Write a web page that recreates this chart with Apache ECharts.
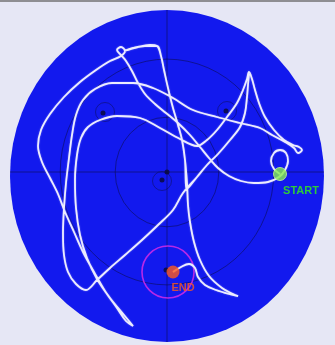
<!DOCTYPE html>
<html>
<head>
<meta charset="utf-8">
<script src="https://cdn.jsdelivr.net/npm/echarts@6/dist/echarts.min.js"></script>
<style>
  html, body { margin: 0; padding: 0; background: #e6e7f5; }
  #chart { width: 335px; height: 345px; }
</style>
</head>
<body>
<div id="chart"></div>
<script>
// Swim path in the pool, tracker units (origin = pool centre marker, y up)
const pathX = [113,107,104,107,113,119,121,118,112,
  101,87,74,62,51,42,33,23,11,-1,-12,-22,-29,-35,-41,-46,
  -50,-46,-42,-46,
  -57,-71,-87,-103,-117,-126,-129,-125,-117,-109,-102,-93,-84,-73,-62,-50,-41,-34,
  -43,-57,-70,-80,-87,-91,-92,-90,-86,-79,-67,-50,-27,-7,13,30,40,50,60,70,76,80,82,
  85,88,92,98,107,117,126,132,135,131,127,
  118,105,93,73,50,26,6,-14,-34,-55,-72,-84,-91,-95,-98,-101,-103,-104,-103,-99,-91,-81,
  -70,-57,-42,-25,-9,6,16,30,40,51,63,73,78,80,81,82,
  81,80,78,73,63,51,40,30,20,
  18,15,11,6,1,-3,-6,-10,
  -22,-34,-43,
  -29,-17,-10,
  -6,-3,1,6,11,15,18,20,21,23,27,33,42,55,66,71,
  62,49,38,31,28,22,14,6];
const pathY = [-2,3,11,19,22,19,11,2,-5,
  -10,-11,-9,-4,4,14,25,37,49,59,68,78,89,101,111,117,
  122,125,121,116,
  111,102,90,75,58,42,26,10,-6,-22,-40,-60,-80,-100,-119,-136,-149,-154,
  -143,-126,-107,-86,-63,-36,-8,17,34,45,52,56,54,44,33,26,32,42,55,69,82,93,100,
  93,82,69,55,42,32,27,25,22,19,24,
  30,37,44,49,55,62,74,84,89,89,83,72,57,37,14,-11,-36,-61,-83,-100,-112,-118,
  -108,-96,-83,-68,-53,-38,-21,-5,7,18,32,45,59,75,87,98,
  87,75,59,45,32,18,7,-5,-17,
  12,32,47,64,84,102,116,126,
  126,124,121,
  125,127,126,
  116,102,84,64,47,32,12,-11,-33,-50,-70,-88,-104,-116,-122,-124,
  -122,-118,-113,-105,-96,-92,-95,-100];

// Pool outline: centre and half-axes
const poolCentre = [0, -4];
const poolRadii = [157, 166];
// Annulus boundaries as fractions of the pool radius
const ringFractions = [0.33, 0.68];
// Zone markers: centres of the small zone circles and their centre dots
const zoneCentres = [[-62, 60], [60, 61], [-5, -9]];
const zoneDots = [[-64, 59], [59, 61], [0, 0], [-5, -8], [-1, -98]];
// Goal zone (platform) centre
const goalCentre = [1, -100];
// Start / end fixes
const startPoint = [113, -2];
const endPoint = [6, -100];

const trackData = pathX.map((x, i) => [x, pathY[i]]);

const chart = echarts.init(document.getElementById('chart'), null, { renderer: 'canvas' });

const GRID_LINE = 'rgba(12,12,70,0.55)';

chart.setOption({
  backgroundColor: '#e6e7f5',
  animation: false,
  grid: { left: 10, right: 11, top: 10, bottom: 3 },
  xAxis: { type: 'value', min: -157, max: 157, show: false },
  yAxis: { type: 'value', min: -170, max: 162, show: false },
  graphic: [{
    type: 'rect', left: 0, top: 0, z: 100,
    shape: { width: 335, height: 2 },
    style: { fill: '#8e8e92' }
  }],
  series: [
    {
      // pool water
      type: 'custom', name: 'pool', z: 1, silent: true, clip: false,
      data: [[poolCentre[0], poolCentre[1], poolRadii[0], poolRadii[1]]],
      renderItem: (params, api) => {
        const c = api.coord([api.value(0), api.value(1)]);
        const s = api.size([api.value(2), api.value(3)]);
        return {
          type: 'circle', x: c[0], y: c[1], scaleY: s[1] / s[0],
          shape: { cx: 0, cy: 0, r: s[0] },
          style: { fill: '#1219ee' }
        };
      }
    },
    {
      // concentric annuli
      type: 'custom', name: 'rings', z: 2, silent: true, clip: false,
      data: ringFractions.map(f => [poolCentre[0], poolCentre[1] + 4, poolRadii[0] * f, poolRadii[1] * f]),
      renderItem: (params, api) => {
        const c = api.coord([api.value(0), api.value(1)]);
        const s = api.size([api.value(2), api.value(3)]);
        return {
          type: 'circle', x: c[0], y: c[1], scaleY: s[1] / s[0],
          shape: { cx: 0, cy: 0, r: s[0] },
          style: { fill: 'none', stroke: GRID_LINE, lineWidth: 1 / Math.max(1, s[1] / s[0]) }
        };
      }
    },
    {
      // quadrant cross-hair
      type: 'custom', name: 'crosshair', z: 2, silent: true, clip: false,
      data: [[-157, 0, 157, 0], [0, 162, 0, -170]],
      renderItem: (params, api) => {
        const a = api.coord([api.value(0), api.value(1)]);
        const b = api.coord([api.value(2), api.value(3)]);
        return {
          type: 'line',
          shape: { x1: a[0], y1: a[1], x2: b[0], y2: b[1] },
          style: { stroke: GRID_LINE, lineWidth: 1 }
        };
      }
    },
    {
      type: 'scatter', name: 'zones', z: 3, silent: true,
      data: zoneCentres, symbol: 'circle', symbolSize: 19,
      itemStyle: { color: 'rgba(0,0,0,0)', borderColor: 'rgba(12,12,70,0.6)', borderWidth: 1 }
    },
    {
      type: 'scatter', name: 'zoneDots', z: 3, silent: true,
      data: zoneDots, symbol: 'circle', symbolSize: 5,
      itemStyle: { color: '#0b0b3c', opacity: 0.85 }
    },
    {
      type: 'line', name: 'track', z: 5, silent: true,
      data: trackData, showSymbol: false, smooth: 0.35,
      lineStyle: { color: '#ececff', width: 1.8, shadowBlur: 1.5, shadowColor: 'rgba(220,220,255,0.6)' }
    },
    {
      type: 'scatter', name: 'goal', z: 4, silent: true,
      data: [goalCentre], symbol: 'circle', symbolSize: 52,
      itemStyle: { color: 'rgba(0,0,0,0)', borderColor: '#e02ce6', borderWidth: 1.6 }
    },
    {
      type: 'scatter', name: 'START', z: 6, silent: true,
      data: [startPoint], symbol: 'circle', symbolSize: 13,
      itemStyle: { color: '#86ee4c', borderColor: '#c8ff9a', borderWidth: 1 },
      label: {
        show: true, formatter: 'START', position: 'bottom', offset: [21, -1],
        color: '#33f50f', fontSize: 11, fontWeight: 'bold', fontFamily: 'Liberation Sans, Arial, sans-serif'
      }
    },
    {
      type: 'scatter', name: 'END', z: 6, silent: true,
      data: [endPoint], symbol: 'circle', symbolSize: 13,
      itemStyle: { color: '#ff5a1c' },
      label: {
        show: true, formatter: 'END', position: 'bottom', offset: [10, -1],
        color: '#ff5a1c', fontSize: 11, fontWeight: 'bold', fontFamily: 'Liberation Sans, Arial, sans-serif'
      }
    }
  ]
});
</script>
</body>
</html>
